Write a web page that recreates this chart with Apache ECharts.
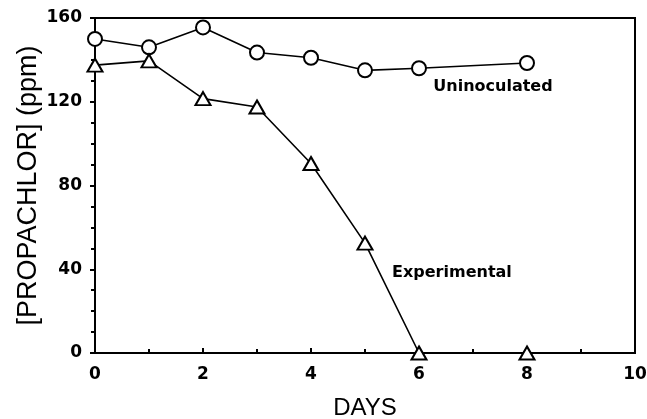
<!DOCTYPE html>
<html><head><meta charset="utf-8">
<script src="https://cdn.jsdelivr.net/npm/echarts@6/dist/echarts.min.js"></script>
<style>html,body{margin:0;padding:0;background:#fff}#c{width:647px;height:419px}</style>
</head><body><div id="c"></div>
<script>
const days = [0, 1, 2, 3, 4, 5, 6, 8];
const uninoculated = [150, 146, 155.5, 143.5, 141, 135, 136, 138.5];
const experimental = [137.5, 139.5, 121.5, 117.5, 90.5, 52.5, 0, 0];
const xTicks = [0, 2, 4, 6, 8, 10];
const yTicks = [0, 40, 80, 120, 160];
const annotations = [
  {text: 'Uninoculated', x: 7.37, y: 127.2},
  {text: 'Experimental', x: 6.61, y: 38.3}
];

const chart = echarts.init(document.getElementById('c'), null, {renderer: 'canvas'});
const font = '"DejaVu Sans", sans-serif';
const nameFont = '"Liberation Sans", Arial, sans-serif';
const pair = (xs, ys) => xs.map((x, i) => [x, ys[i]]);
const baseAxis = {
  axisLine: {show: true, lineStyle: {color: '#000', width: 2}},
  splitLine: {show: false},
  minorSplitLine: {show: false},
  nameMoveOverlap: false,
  axisLabel: {color: '#000', fontFamily: font, fontSize: 17, fontWeight: 'bold'},
  nameTextStyle: {color: '#000', fontFamily: nameFont, fontSize: 24}
};
chart.setOption({
  animation: false,
  backgroundColor: '#fff',
  grid: {left: 95, right: 12, top: 18, bottom: 66, containLabel: false, outerBoundsMode: 'none',
         show: true, borderColor: '#000', borderWidth: 2, backgroundColor: 'transparent'},
  xAxis: Object.assign({}, baseAxis, {
    type: 'value', min: xTicks[0], max: xTicks[xTicks.length - 1], interval: 2,
    name: 'DAYS', nameLocation: 'middle', nameGap: 43,
    axisTick: {show: true, inside: true, length: 5, lineStyle: {color: '#000', width: 2}},
    minorTick: {show: true, splitNumber: 2, length: 4, lineStyle: {color: '#000', width: 2}},
    axisLabel: Object.assign({}, baseAxis.axisLabel, {margin: 13})
  }),
  yAxis: Object.assign({}, baseAxis, {
    type: 'value', min: yTicks[0], max: yTicks[yTicks.length - 1], interval: 40,
    name: '[PROPACHLOR] (ppm)', nameLocation: 'middle', nameGap: 53,
    nameTextStyle: {color: '#000', fontFamily: nameFont, fontSize: 27},
    axisTick: {show: true, inside: false, length: 5, lineStyle: {color: '#000', width: 2}},
    minorTick: {show: true, splitNumber: 4, length: 4, lineStyle: {color: '#000', width: 2}},
    axisLabel: Object.assign({}, baseAxis.axisLabel, {margin: 13})
  }),
  series: [
    {
      type: 'line', data: pair(days, uninoculated), symbol: 'circle', symbolSize: 14,
      lineStyle: {color: '#000', width: 1.6},
      itemStyle: {color: '#fff', borderColor: '#000', borderWidth: 2}, z: 3
    },
    {
      type: 'line', data: pair(days, experimental), symbol: 'triangle', symbolSize: [15, 13],
      lineStyle: {color: '#000', width: 1.6},
      itemStyle: {color: '#fff', borderColor: '#000', borderWidth: 2}, z: 3
    },
    {
      type: 'scatter', symbolSize: 0, silent: true, itemStyle: {opacity: 1},
      data: annotations.map(a => ({value: [a.x, a.y], name: a.text})),
      label: {show: true, position: 'inside', formatter: p => p.name, color: '#000', textBorderWidth: 0, fontFamily: font, fontSize: 16, fontWeight: 'bold'}
    }
  ]
});
</script></body></html>
